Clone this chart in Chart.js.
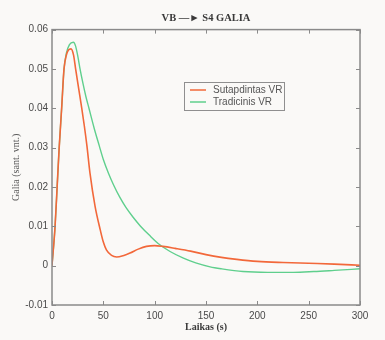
<!DOCTYPE html>
<html>
<head>
<meta charset="utf-8">
<script src="https://cdn.jsdelivr.net/npm/chart.js@4/dist/chart.umd.min.js"></script>
<style>
  html, body { margin: 0; padding: 0; background: #faf9f7; }
  #wrap { width: 385px; height: 340px; }
</style>
</head>
<body>
<div id="wrap"><canvas id="galiaChart" width="385" height="340"></canvas></div>
<script>
// values
const sutapX = [0, 3, 5, 7, 9.4, 11.7, 14, 16, 18.5, 21, 23, 26, 29, 31.5, 34, 37, 42, 47, 50, 53, 58, 63, 70, 76, 84, 92, 100, 108, 120, 135, 150, 165, 180, 200, 225, 250, 275, 300]
const sutapY = [0, 0.010, 0.020, 0.030, 0.040, 0.050, 0.0535, 0.0548, 0.0551, 0.0535, 0.050, 0.045, 0.040, 0.0355, 0.0305, 0.0235, 0.015, 0.0091, 0.006, 0.004, 0.0026, 0.0022, 0.0026, 0.0032, 0.0042, 0.0049, 0.0051, 0.0049, 0.0044, 0.0037, 0.0028, 0.0021, 0.0016, 0.0011, 0.0008, 0.0006, 0.0004, 0.0001]

const tradX = [0, 3, 5, 7, 9.4, 11.7, 14, 17, 20.8, 23, 25.3, 27.3, 30, 33, 36, 41, 46, 50, 55, 60, 66, 72, 79, 86, 95, 105, 115, 128, 140, 154, 165, 186, 210, 235, 255, 275, 300]
const tradY = [0, 0.010, 0.020, 0.030, 0.040, 0.050, 0.054, 0.0562, 0.0568, 0.0558, 0.053, 0.050, 0.0465, 0.043, 0.040, 0.035, 0.0305, 0.027, 0.0235, 0.0205, 0.0174, 0.0148, 0.0123, 0.0101, 0.0077, 0.0053, 0.0036, 0.0019, 0.0007, -0.0003, -0.0008, -0.0015, -0.0017, -0.0017, -0.0015, -0.0012, -0.0008]

const seriesNames = ['Sutapdintas VR', 'Tradicinis VR']
const xTicks = [0, 50, 100, 150, 200, 250, 300]
const yTicks = [-0.01, 0, 0.01, 0.02, 0.03, 0.04, 0.05, 0.06]

const toPoints = (xs, ys) => xs.map((x, i) => ({x: x, y: ys[i]}))

const frameColor = '#8a8a8a'
const textColor = '#4a4a4a'

// MATLAB style box with ticks pointing inwards, plus the legend box
const boxPlugin = {
    id: 'box',
    afterDatasetsDraw(chart) {
        const c = chart.ctx
        const a = chart.chartArea
        const xs = chart.scales.x
        const ys = chart.scales.y
        c.save()
        c.strokeStyle = frameColor
        c.lineWidth = 1
        xs.ticks.forEach(t => {
            const px = Math.round(xs.getPixelForValue(t.value)) + 0.5
            c.beginPath()
            c.moveTo(px, a.bottom); c.lineTo(px, a.bottom - 4)
            c.moveTo(px, a.top); c.lineTo(px, a.top + 4)
            c.stroke()
        })
        ys.ticks.forEach(t => {
            const py = Math.round(ys.getPixelForValue(t.value)) + 0.5
            c.beginPath()
            c.moveTo(a.left, py); c.lineTo(a.left + 4, py)
            c.moveTo(a.right, py); c.lineTo(a.right - 4, py)
            c.stroke()
        })
        c.lineWidth = 1.5
        c.strokeRect(a.left, a.top, a.right - a.left, a.bottom - a.top)

        // legend
        const lx = 184, ly = 82, lw = 100, lh = 28
        c.lineWidth = 1
        c.strokeStyle = '#8f8f8f'
        c.strokeRect(lx + 0.5, ly + 0.5, lw, lh)
        c.font = '10px "Liberation Sans", Arial, sans-serif'
        c.textBaseline = 'middle'
        chart.data.datasets.forEach((ds, i) => {
            const yy = ly + 8 + i * 12
            c.strokeStyle = ds.borderColor
            c.lineWidth = 1.5
            c.beginPath()
            c.moveTo(lx + 6, yy); c.lineTo(lx + 22, yy)
            c.stroke()
            c.fillStyle = '#555'
            c.fillText(ds.label, lx + 29, yy)
        })
        c.restore()
    }
}

const bgPlugin = {
    id: 'bg',
    beforeDraw(chart) {
        const c = chart.ctx
        c.save()
        c.fillStyle = '#faf9f7'
        c.fillRect(0, 0, chart.width, chart.height)
        c.restore()
    }
}

const ctx = document.getElementById('galiaChart').getContext('2d')
new Chart(ctx, {
    type: 'line',
    data: {
        datasets: [{
            label: seriesNames[0],
            data: toPoints(sutapX, sutapY),
            borderColor: '#f2683a',
            borderWidth: 1.6,
            pointRadius: 0,
            cubicInterpolationMode: 'monotone'
        }, {
            label: seriesNames[1],
            data: toPoints(tradX, tradY),
            borderColor: '#5fcf8d',
            borderWidth: 1.4,
            pointRadius: 0,
            cubicInterpolationMode: 'monotone'
        }]
    },
    plugins: [bgPlugin, boxPlugin],
    options: {
        responsive: false,
        animation: false,
        layout: { padding: { left: 0, right: 25, top: 0, bottom: 0 } },
        plugins: {
            legend: { display: false },
            tooltip: { enabled: false },
            title: {
                display: true,
                fullSize: false,
                text: 'VB —► S4 GALIA',
                color: '#3a3a3a',
                font: { family: '"Liberation Serif", "DejaVu Serif", serif', size: 10.5, weight: 'bold' },
                padding: { top: 12, bottom: 5 }
            }
        },
        scales: {
            x: {
                type: 'linear',
                min: 0, max: 300,
                afterFit: s => { s.height = 35 },
                afterBuildTicks: s => { s.ticks = xTicks.map(v => ({value: v})) },
                grid: { display: false, drawTicks: false },
                border: { display: false },
                ticks: {
                    padding: 5,
                    color: textColor,
                    maxRotation: 0,
                    font: { family: '"Liberation Sans", Arial, sans-serif', size: 10 }
                },
                title: {
                    display: true,
                    text: 'Laikas (s)',
                    color: '#3a3a3a',
                    font: { family: '"Liberation Serif", "DejaVu Serif", serif', size: 10, weight: 'bold' },
                    padding: { top: 0, bottom: 7 }
                }
            },
            y: {
                min: -0.01, max: 0.06,
                afterFit: s => { s.width = 52 },
                afterBuildTicks: s => { s.ticks = yTicks.map(v => ({value: v})) },
                grid: { display: false, drawTicks: false },
                border: { display: false },
                ticks: {
                    padding: 4,
                    color: textColor,
                    font: { family: '"Liberation Sans", Arial, sans-serif', size: 10 },
                    callback: v => Math.abs(v) < 1e-9 ? '0' : v.toFixed(2)
                },
                title: {
                    display: true,
                    text: 'Galia (sant. vnt.)',
                    color: '#5a5a5a',
                    font: { family: '"Liberation Serif", "DejaVu Serif", serif', size: 10 },
                    padding: { top: 10, bottom: 0 }
                }
            }
        }
    }
})
</script>
</body>
</html>
